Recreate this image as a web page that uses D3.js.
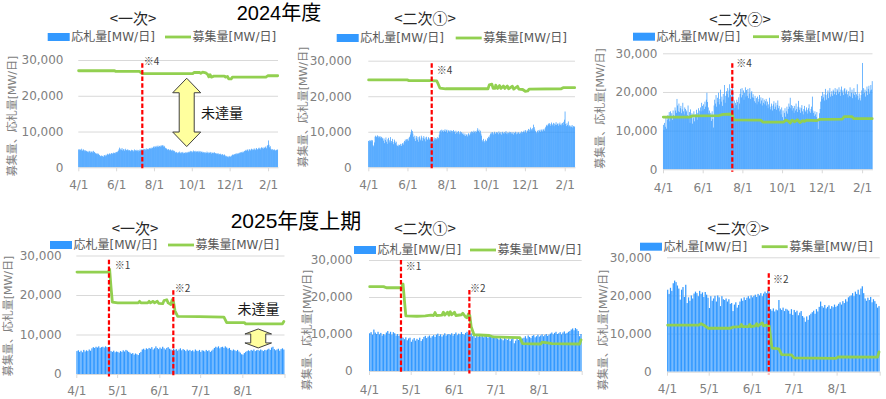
<!DOCTYPE html>
<html>
<head>
<meta charset="utf-8">
<script src="https://cdn.jsdelivr.net/npm/d3@7"></script>
<style>
html, body { margin: 0; padding: 0; background: #fff; }
svg { display: block; font-family: "DejaVu Sans", "Noto Sans CJK JP", sans-serif; }
</style>
</head>
<body>
<svg id="chart" width="886" height="399"></svg>
<script>
// values in 1,000 MW / day

const yTicks = [0, 10, 20, 30];

const ticks24 = ["4/1", "6/1", "8/1", "10/1", "12/1", "2/1"];
const tickDates24 = ["2024-04-01", "2024-06-01", "2024-08-01", "2024-10-01", "2024-12-01", "2025-02-01"];
const ticks25 = ["4/1", "5/1", "6/1", "7/1", "8/1", ""];
const tickDates25 = ["2025-04-01", "2025-05-01", "2025-06-01", "2025-07-01", "2025-08-01", "2025-09-01"];

// 応札量 (daily bars)
const bid24a = [
  5.0,4.8,5.1,4.9,4.7,5.2,4.6,4.9,5.0,4.5,4.8,4.7,
  4.4,4.6,4.3,4.5,4.2,4.6,4.4,4.1,4.5,4.3,4.4,4.0,4.6,4.2,4.3,
  3.9,4.0,3.7,3.9,3.6,3.8,3.5,3.4,
  3.2,3.0,3.3,3.1,3.2,2.9,3.3,3.4,3.1,3.5,3.3,
  3.6,3.8,3.5,3.7,3.9,3.6,3.8,4.0,3.7,3.9,4.1,3.8,4.0,4.2,3.9,4.3,4.1,4.4,4.6,
  5.0,5.5,4.8,5.2,4.9,5.4,4.7,5.0,5.1,4.6,4.9,5.2,4.8,4.7,5.0,4.9,4.6,4.8,
  4.7,4.5,4.9,4.6,4.8,4.4,4.7,5.0,4.5,4.8,4.6,4.9,4.7,4.4,4.8,4.6,5.0,4.7,4.9,
  5.0,4.8,5.2,4.9,5.1,4.7,5.0,5.3,4.9,5.1,5.2,5.0,5.4,5.1,5.3,5.5,5.2,5.4,5.6,
  5.8,5.5,5.9,5.7,6.0,5.6,5.8,6.1,5.7,5.9,6.0,5.8,6.2,5.9,6.1,6.2,5.8,6.0,5.7,
  5.4,5.1,5.3,5.0,4.8,5.1,4.9,4.7,5.0,4.8,4.6,4.9,4.5,4.7,4.4,4.6,
  4.2,4.0,4.3,4.1,3.9,4.2,4.0,4.4,4.1,3.8,4.2,4.0,4.3,3.9,4.1,4.0,4.2,3.9,4.1,4.3,4.0,4.2,
  4.4,4.2,4.6,4.3,4.5,4.1,4.4,4.7,4.3,4.5,4.2,4.6,4.4,4.3,4.5,4.2,4.6,4.4,4.1,4.5,4.3,4.4,
  4.1,4.3,4.0,4.2,3.9,4.2,4.0,4.4,4.1,3.9,4.2,4.0,4.3,4.1,3.8,4.2,4.0,4.1,3.9,4.2,4.0,
  3.9,3.7,4.0,3.8,3.6,3.9,3.7,3.5,3.8,3.6,3.4,3.7,3.5,3.3,3.6,3.4,
  3.1,3.0,3.2,2.9,3.1,2.8,3.0,3.2,2.9,3.1,3.3,
  3.5,3.6,3.4,3.7,3.5,3.8,3.6,3.9,3.7,4.0,3.8,4.1,3.9,4.2,4.0,4.3,4.1,4.4,4.2,4.5,4.6,
  4.7,4.9,4.6,5.0,4.8,4.5,5.1,4.9,4.7,5.0,5.2,4.8,5.1,4.9,5.3,5.0,4.8,5.2,5.4,5.1,4.9,5.3,5.5,5.2,5.0,5.4,5.6,
  5.3,5.5,5.2,5.6,5.4,5.8,5.5,5.3,6.0,6.2,7.5,
  6.3,5.6,5.9,5.2,5.0,4.8,5.1,4.9,4.7,5.0,4.8,4.6,4.9,4.8,5.0
];
const bid24b = [
  7.4,7.6,7.2,7.5,7.7,7.3,7.6,6.2,5.9,7.0,
  8.6,8.9,8.5,8.7,9.0,8.4,8.8,8.6,8.2,8.7,8.5,8.0,8.3,
  7.5,8.1,6.8,7.7,8.4,7.2,6.6,7.9,8.3,7.0,7.6,8.5,6.9,7.4,8.0,7.1,6.5,7.8,7.3,6.8,7.2,
  6.2,6.0,6.4,5.9,6.3,6.1,6.6,6.0,6.5,6.8,6.4,7.0,
  7.4,7.8,7.2,7.9,7.6,8.0,7.5,8.3,8.6,9.2,9.8,
  10.6,10.2,9.5,
  8.6,8.0,8.9,7.4,8.3,8.8,7.8,8.5,7.2,8.7,8.1,7.6,8.9,8.4,7.5,8.2,8.8,7.9,8.4,7.3,8.6,8.0,7.7,8.5,8.2,7.8,
  8.1,7.6,8.3,7.9,8.0,7.5,8.4,7.8,8.2,7.7,8.1,8.5,7.9,8.3,9.2,
  10.1,10.4,9.8,10.6,10.2,10.5,9.9,10.3,10.7,10.0,10.4,10.6,9.7,10.2,10.5,10.1,9.8,10.4,10.3,9.6,
  10.2,10.5,9.9,10.1,9.4,10.3,9.7,10.0,9.5,10.2,9.8,9.3,10.1,9.6,9.9,9.4,9.7,
  9.2,9.0,9.5,8.8,9.3,9.1,8.7,9.4,9.6,9.0,9.3,9.8,10.1,9.5,10.0,9.7,10.3,9.9,10.2,9.6,10.0,
  10.4,11.0,10.2,10.6,9.8,10.3,9.5,8.9,
  7.6,7.2,8.0,7.4,7.0,7.8,7.3,7.5,8.2,7.9,8.6,8.4,9.0,
  9.5,9.8,9.3,9.9,9.6,9.2,10.0,9.7,9.4,9.9,9.6,9.8,9.3,10.1,9.7,9.5,9.9,9.2,9.8,10.0,
  9.6,9.4,9.9,9.7,10.2,9.5,9.8,9.3,9.7,10.0,9.6,9.9,9.4,9.8,9.5,9.9,9.2,9.7,9.6,10.0,
  9.3,9.8,9.5,9.9,9.7,9.4,9.8,9.6,10.1,9.5,9.9,
  10.0,10.3,9.8,10.5,10.1,9.7,10.4,10.2,10.8,10.0,10.6,11.2,10.3,10.7,11.0,10.4,12.0,11.3,10.6,10.2,9.9,
  9.6,10.2,10.5,9.8,10.3,10.6,10.0,10.4,10.7,10.1,10.5,10.8,10.3,11.0,11.4,11.8,
  12.0,11.6,12.3,11.9,12.4,11.7,12.2,12.6,11.8,12.1,12.5,11.6,12.3,12.0,12.7,11.9,12.2,12.4,11.7,12.1,
  12.6,12.0,11.8,12.3,12.5,11.9,12.8,13.4,
  15.7,
  12.2,11.6,12.4,11.9,12.9,11.5,11.8,11.3,11.7,11.4,11.9,11.2,11.6,11.3,11.5
];
const bid24c = [
  11.5,10.2,12.0,11.0,13.5,10.5,12.8,
  14.0,13.2,14.8,12.4,15.0,13.6,14.5,12.8,15.2,14.0,13.5,16.0,15.2,14.6,
  18.2,16.5,15.0,17.0,14.8,15.8,16.4,14.5,15.5,17.2,15.0,14.2,16.0,15.6,14.8,
  15.2,14.0,16.5,13.5,14.8,12.0,15.5,13.8,14.5,11.8,13.2,15.0,12.4,14.2,13.6,15.4,12.8,14.6,15.8,14.0,15.2,
  16.0,15.0,17.2,16.4,15.2,16.8,15.6,17.5,16.2,18.0,19.8,17.4,16.0,
  14.5,15.2,13.8,14.6,12.5,15.0,13.0,10.8,
  16.5,18.0,17.0,19.2,16.2,18.5,17.4,19.8,16.8,18.2,20.6,17.5,18.8,16.4,19.5,18.0,21.8,17.2,19.0,20.2,
  19.5,21.0,18.6,20.4,22.0,19.2,20.8,18.4,21.5,19.8,
  16.5,17.8,15.8,17.2,16.6,18.0,17.4,15.5,18.6,17.0,
  19.5,20.8,18.6,21.0,19.2,20.4,18.0,19.8,21.2,18.8,20.5,19.0,20.8,18.4,19.6,21.0,18.2,19.8,20.2,18.6,19.4,
  18.5,17.6,19.0,17.2,18.4,16.8,18.8,17.5,18.2,19.2,17.0,18.6,17.8,16.5,18.4,17.2,18.0,16.8,17.6,18.2,
  16.5,17.5,15.8,16.8,18.5,16.2,15.5,17.0,16.4,15.2,16.8,17.6,15.6,16.2,17.2,15.4,16.6,17.8,15.8,16.4,15.0,
  15.5,14.2,16.0,13.5,15.2,12.8,14.6,15.8,13.6,15.0,16.2,14.4,15.6,17.0,16.2,18.5,15.8,16.6,15.2,16.4,
  15.8,14.6,16.4,15.2,17.0,15.6,14.8,16.2,17.7,15.4,16.0,14.6,15.8,16.6,15.0,14.2,15.6,16.4,15.2,14.8,
  16.0,15.4,14.4,15.8,16.8,15.0,14.6,15.6,16.2,18.8,15.2,
  14.6,13.8,15.0,14.2,13.5,14.8,12.6,10.4,13.0,14.5,15.6,
  17.5,19.0,18.2,20.0,18.6,19.4,17.8,20.8,19.2,18.0,19.6,20.4,18.4,19.8,21.0,18.8,19.4,20.2,19.0,20.6,
  20.2,19.4,21.0,20.0,19.2,20.8,20.4,19.6,21.2,20.0,19.0,20.6,21.4,19.8,20.4,19.2,20.8,21.0,19.6,20.2,20.6,
  19.4,18.6,20.2,19.0,21.2,18.8,19.8,20.6,18.4,19.6,21.0,19.2,20.0,18.6,19.4,22.0,19.0,18.0,19.6,18.4,
  17.8,19.2,20.4,
  27.5,
  19.5,21.0,19.8,20.6,18.8,20.2,21.4,19.2,20.8,21.6,19.6,20.4,21.8,20.6,22.8
];
const bid25a = [
  5.8,6.0,5.6,5.9,5.5,6.1,5.7,6.0,5.8,6.2,5.9,
  6.5,6.8,6.6,6.9,6.7,7.0,6.6,6.8,6.9,6.7,7.0,6.8,6.6,6.9,
  5.8,5.6,5.9,5.5,5.7,5.6,5.4,5.8,5.6,6.0,5.7,6.1,5.9,5.6,
  5.4,5.1,5.3,4.9,5.2,5.0,4.8,5.3,5.6,
  6.2,6.4,6.1,6.5,6.3,6.6,6.4,6.8,6.2,6.5,7.0,6.6,6.3,6.7,6.4,6.9,6.5,6.2,6.6,6.8,6.4,
  6.2,6.0,6.4,6.1,6.3,5.9,6.2,6.5,6.0,6.3,6.1,5.8,6.2,
  5.9,6.1,5.8,6.0,5.7,6.2,5.9,5.8,6.1,5.6,6.0,5.9,5.7,6.1,5.8,6.0,5.6,5.9,6.2,
  6.6,6.9,6.7,7.0,6.5,6.8,6.9,6.6,7.0,6.7,6.4,6.6,
  6.1,5.9,6.2,6.0,5.8,6.1,5.7,5.4,5.0,4.9,5.3,5.6,5.8,
  6.0,5.8,6.1,5.9,6.2,5.8,6.0,6.1,5.9,6.2,6.0,5.8,6.1,6.0,
  6.2,6.4,6.1,6.7,6.9,6.3,6.0,6.2,6.4,5.9,6.3,6.5,6.2
];
const bid25b = [
  10.2,10.5,9.8,11.2,10.4,10.0,10.6,9.9,10.3,9.6,
  10.0,9.7,10.4,10.8,10.1,10.6,9.8,10.5,10.2,9.6,10.0,9.5,9.8,
  9.2,9.0,8.6,9.1,8.3,8.8,9.0,7.9,8.5,8.9,8.2,8.7,8.4,9.0,8.1,8.6,
  9.2,9.5,8.9,9.3,9.6,9.0,9.4,9.7,9.2,9.8,10.1,9.5,9.9,9.3,9.7,10.2,9.6,9.9,10.0,
  9.8,10.2,9.6,10.0,10.4,9.7,10.1,9.9,10.5,10.0,9.8,10.3,10.6,10.1,9.9,10.2,
  9.4,9.7,9.0,9.5,9.2,9.8,9.3,9.6,9.1,9.5,9.7,9.0,9.4,9.6,9.2,9.5,9.3,9.0,
  8.8,8.5,9.0,8.6,8.3,8.9,8.7,8.4,8.8,8.1,8.6,8.9,7.5,8.2,8.7,8.4,8.9,8.5,8.8,
  9.0,9.4,8.8,9.6,9.2,8.9,9.5,9.7,9.1,9.4,9.8,9.3,9.6,9.9,9.4,9.7,10.0,9.5,9.8,
  10.1,10.4,9.9,10.3,10.6,10.0,10.2,10.5,9.9,10.4,10.7,10.1,10.3,10.6,10.8,
  11.2,11.5,11.0,11.6,11.3,10.8,9.4,10.0
];
const bid25c = [
  21.5,20.4,22.0,21.2,
  23.2,23.9,23.5,22.6,
  21.8,18.9,21.5,22.2,19.6,22.8,18.0,
  19.5,18.6,20.0,19.2,20.5,
  21.0,20.6,19.8,21.2,20.4,20.8,19.6,20.9,20.2,
  19.4,16.7,19.8,18.6,19.2,
  19.9,18.4,20.0,19.5,17.2,19.8,19.0,
  18.8,19.2,18.4,19.0,17.8,
  18.0,15.9,17.6,18.2,16.8,17.5,18.4,
  19.2,18.6,19.5,18.8,19.4,
  19.8,19.2,20.0,19.5,19.9,
  20.2,19.6,20.4,20.0,20.6,19.8,20.5,
  21.0,20.6,21.3,20.8,
  16.4,16.0,16.6,15.8,16.3,16.1,
  18.8,16.6,16.2,16.8,15.9,16.5,16.3,
  16.0,15.2,16.4,14.9,16.2,15.6,16.0,14.8,15.5,15.9,14.6,
  14.2,13.1,14.5,13.6,14.8,15.2,
  15.6,16.0,15.2,16.4,15.8,17.0,18.4,
  17.2,16.8,17.5,16.6,17.0,17.4,16.5,17.2,16.9,17.6,17.0,17.3,
  17.8,18.2,17.6,18.5,18.0,19.0,18.4,19.5,19.8,
  20.0,20.6,19.8,21.0,20.4,21.5,20.2,21.8,22.4,20.6,
  19.2,18.6,19.4,18.8,19.6,18.2,19.0,18.5,17.8,
  16.8,17.2
];

// 募集量 (line vertices: [day from 4/1, value])
const req24a = [[0,27.0],[58,27.0],[60,26.8],[98,26.8],[101,26.4],[104,26.2],[184,26.2],[186,26.5],[195,26.5],[197,26.3],
  [200,26.6],[205,26.4],[208,26.0],[210,25.3],[212,25.9],[214,25.2],[218,25.5],[235,25.5],[237,25.2],[240,25.4],
  [242,24.7],[246,24.7],[248,25.2],[302,25.2],[305,25.6],[321,25.6]];
const req24b = [[0,24.6],[60,24.6],[63,24.4],[96,24.4],[106,24.3],[108,23.6],[111,22.3],[120,22.1],[186,22.1],[188,23.2],
  [192,23.4],[194,22.2],[197,22.2],[198,23.1],[201,22.2],[204,23.0],[206,22.2],[210,22.9],[212,22.2],[216,22.9],
  [218,22.1],[224,22.8],[226,22.0],[232,22.8],[234,22.0],[240,21.9],[244,21.4],[248,21.5],[250,22.0],[300,22.1],
  [303,22.4],[321,22.4]];
const req24c = [[0,13.5],[40,13.5],[45,13.8],[85,13.9],[92,14.2],[106,14.3],[108,12.8],[150,12.7],[153,12.2],[185,12.2],
  [188,12.7],[192,12.5],[195,12.0],[198,12.7],[202,12.3],[206,12.8],[210,12.1],[214,12.6],[217,12.4],[220,12.7],
  [236,12.6],[240,12.9],[275,13.0],[278,13.6],[290,13.6],[293,13.1],[321,13.1]];
const req25a = [[0,25.8],[23,25.8],[24,26.5],[25,22.0],[26,18.2],[30,18.0],[45,18.0],[46,18.4],[47,18.0],[52,18.0],
  [53,18.4],[54,18.0],[56,18.4],[57,18.0],[59,18.4],[60,17.9],[63,17.8],[64,18.6],[66,18.8],[67,18.0],[69,17.6],
  [70,18.8],[71,18.2],[72,16.0],[74,14.6],[90,14.5],[108,14.4],[110,13.0],[123,13.0],[124,12.7],[151,12.7],[152,13.3]];
const req25b = [[0,22.8],[10,22.8],[12,22.5],[23,22.5],[24,23.5],[25,19.0],[26,14.9],[34,14.8],[40,14.9],[44,15.1],
  [46,15.0],[47,15.8],[48,15.0],[52,15.1],[53,15.9],[54,15.1],[56,15.9],[57,15.1],[58,16.0],[59,15.2],[61,15.9],
  [62,15.0],[66,15.2],[67,15.6],[69,14.6],[70,14.4],[71,15.4],[72,15.0],[73,12.0],[75,9.8],[86,9.6],[89,9.2],
  [108,9.0],[110,7.4],[123,7.3],[124,7.8],[128,7.6],[131,7.4],[151,7.3],[152,8.4]];
const req25c = [[0,12.2],[22,12.2],[24,12.6],[26,12.2],[29,11.4],[45,11.4],[47,11.7],[52,11.8],[53,12.4],[54,11.8],
  [58,11.8],[59,12.4],[60,11.8],[63,12.0],[64,12.6],[65,12.0],[68,12.8],[69,12.0],[71,12.2],[73,12.0],[75,6.2],
  [80,6.0],[82,4.5],[89,4.4],[91,3.6],[121,3.5],[123,3.9],[151,3.8],[152,5.2]];

const BLUE = "#3399ff", GREEN = "#92d050", RED = "#ff0000";
const fmt = d3.format(",");
const svg = d3.select("#chart");

const panels = [
  { title: "<一次>", start: "2024-04-01", days: 322, ticks: ticks24, tickDates: tickDates24, bids: bid24a, req: req24a,
    box: { x0: 78.3, x1: 278, y0: 167.3, y30: 60 }, titleXY: [133, 18.3], legY: 37, legRect: 47.7, legLine: 165,
    yLab: [12, 116], xLabY: 185, tickR: 63.5, barFrac: 1.08,
    marks: [{ day: 103.2, top: 29.1, label: "※4", dx: 1.5, dy: -1.5 }],
    arrow: { day: 174.8, top: 24.9, bottom: 5.8, headW: 14, shaftW: 7.5, headL: 14.5, text: [201, 113.5] } },
  { title: "<二次①>", start: "2024-04-01", days: 322, ticks: ticks24, tickDates: tickDates24, bids: bid24b, req: req24b,
    box: { x0: 368.3, x1: 575, y0: 167.3, y30: 60.7 }, titleXY: [425, 18.3], legY: 38, legRect: 336.7, legLine: 455.7,
    yLab: [303, 107], xLabY: 185, tickR: 351.7, barFrac: 1.08,
    marks: [{ day: 98.8, top: 29.3, label: "※4", dx: 5, dy: 7.5 }] },
  { title: "<二次②>", start: "2024-04-01", days: 322, ticks: ticks24, tickDates: tickDates24, bids: bid24c, req: req24c,
    box: { x0: 663, x1: 872.5, y0: 169.3, y30: 53.3 }, titleXY: [740, 20], legY: 36.7, legRect: 633, legLine: 753,
    yLab: [600, 108.5], xLabY: 188, tickR: 657.5, barFrac: 1.08,
    marks: [{ day: 106.5, top: 27.4, label: "※4", dx: 4, dy: 0 }] },
  { title: "<一次>", start: "2025-04-01", days: 153, ticks: ticks25, tickDates: tickDates25, bids: bid25a, req: req25a,
    box: { x0: 76.3, x1: 284.5, y0: 374, y30: 255.5 }, titleXY: [135, 228.3], legY: 245, legRect: 50, legLine: 168,
    yLab: [8.5, 316], xLabY: 390.5, tickR: 61.7, barFrac: 0.88,
    marks: [{ day: 24.0, top: 28.9, label: "※1", dx: 5.7, dy: 5.5 }, { day: 71.3, top: 21.2, label: "※2", dx: 1.4, dy: -1.7 }],
    arrow: { day: 133.7, top: 11.4, bottom: 6.6, headW: 13.3, shaftW: 7.5, headL: 5, text: [237.5, 309] } },
  { title: "<二次①>", start: "2025-04-01", days: 153, ticks: ticks25, tickDates: tickDates25, bids: bid25b, req: req25b,
    box: { x0: 369, x1: 581.7, y0: 371, y30: 260 }, titleXY: [425, 228.3], legY: 250, legRect: 354, legLine: 470,
    yLab: [307, 330], xLabY: 389.3, tickR: 352.7, barFrac: 0.88,
    marks: [{ day: 23.0, top: 30, label: "※1", dx: 4.7, dy: 6.7 }, { day: 72.2, top: 21.9, label: "※2", dx: 0.7, dy: -1.7 }] },
  { title: "<二次②>", start: "2025-04-01", days: 153, ticks: ticks25, tickDates: tickDates25, bids: bid25c, req: req25c,
    box: { x0: 667, x1: 879.7, y0: 371.7, y30: 257.3 }, titleXY: [738.3, 228.3], legY: 246.7, legRect: 640, legLine: 761.7,
    yLab: [603, 330], xLabY: 389.3, tickR: 651.7, barFrac: 0.88,
    marks: [{ day: 73.2, top: 25.8, label: "※2", dx: 4.3, dy: 6 }] }
];

const parseDay = d3.utcParse("%Y-%m-%d");

function drawPanel(p) {
  const g = svg.append("g");
  const b = p.box;
  const t0 = parseDay(p.start);
  const x = d3.scaleUtc().domain([t0, d3.utcDay.offset(t0, p.days)]).range([b.x0, b.x1]);
  const y = d3.scaleLinear().domain([0, 30]).range([b.y0, b.y30]);
  const slot = (b.x1 - b.x0) / p.days;
  const dayX = d => x(new Date(t0.getTime() + d * 864e5));

  // gridlines
  const grid = g.append("g").attr("transform", `translate(${b.x0},0)`)
    .call(d3.axisLeft(y).tickValues(yTicks.slice(1)).tickSize(-(b.x1 - b.x0)).tickFormat(""));
  grid.select(".domain").remove();
  grid.selectAll("line").attr("stroke", "#d9d9d9");

  // bars
  g.append("g").selectAll("rect").data(p.bids).join("rect")
    .attr("x", (d, i) => dayX(i) + slot * (1 - p.barFrac) / 2)
    .attr("width", slot * p.barFrac)
    .attr("y", d => y(d))
    .attr("height", d => y(0) - y(d))
    .attr("fill", BLUE);

  // x axis
  const xa = g.append("g").attr("transform", `translate(0,${b.y0})`)
    .call(d3.axisBottom(x).tickValues(p.tickDates.map(parseDay)).tickFormat((d, i) => p.ticks[i]).tickSize(4).tickSizeOuter(0));
  xa.select(".domain").attr("stroke", "#d9d9d9");
  xa.selectAll("line").attr("stroke", "#d9d9d9");
  xa.selectAll("text").attr("y", p.xLabY - b.y0).attr("dy", "0.35em")
    .attr("fill", "#808080").style("font-size", "12px").style("font-family", "DejaVu Sans");

  // y axis labels
  const ya = g.append("g").attr("transform", `translate(${b.x0},0)`)
    .call(d3.axisLeft(y).tickValues(yTicks).tickSize(0).tickPadding(b.x0 - p.tickR).tickFormat(d => fmt(d * 1000)));
  ya.select(".domain").remove();
  ya.selectAll("text").attr("fill", "#808080").style("font-size", "12px").style("font-family", "DejaVu Sans");

  // 募集量 line
  const line = d3.line().x(d => dayX(d[0]) + slot / 2).y(d => y(d[1]));
  g.append("path").datum(p.req).attr("d", line)
    .attr("fill", "none").attr("stroke", GREEN).attr("stroke-width", 2.8)
    .attr("stroke-linejoin", "round").attr("stroke-linecap", "round");

  // red dashed markers
  p.marks.forEach(m => {
    const mx = dayX(m.day);
    g.append("line").attr("x1", mx).attr("x2", mx).attr("y1", y(m.top)).attr("y2", b.y0 + 2.5)
      .attr("stroke", RED).attr("stroke-width", 2.2).attr("stroke-dasharray", "4.5,2.2");
    g.append("text").attr("x", mx + m.dx).attr("y", y(m.top) + m.dy).attr("dy", "0.35em")
      .attr("fill", "#404040").style("font-size", "10px").style("font-family", "Noto Sans CJK JP")
      .text(m.label);
  });

  // yellow double arrow
  if (p.arrow) {
    const a = p.arrow, cx = dayX(a.day), ty = y(a.top), by = y(a.bottom);
    const pts = [[cx, ty], [cx + a.headW, ty + a.headL], [cx + a.shaftW, ty + a.headL], [cx + a.shaftW, by - a.headL],
      [cx + a.headW, by - a.headL], [cx, by], [cx - a.headW, by - a.headL], [cx - a.shaftW, by - a.headL],
      [cx - a.shaftW, ty + a.headL], [cx - a.headW, ty + a.headL]];
    g.append("path").attr("d", d3.line()(pts) + "Z")
      .attr("fill", "#ffff9e").attr("stroke", "#404040").attr("stroke-width", 1).attr("stroke-linejoin", "round");
    g.append("text").attr("x", a.text[0]).attr("y", a.text[1]).attr("dy", "0.35em")
      .attr("fill", "#1a1a1a").style("font-size", "14px").style("font-family", "Noto Sans CJK JP")
      .text("未達量");
  }

  // title
  g.append("text").attr("x", p.titleXY[0]).attr("y", p.titleXY[1]).attr("dy", "0.35em")
    .attr("text-anchor", "middle").attr("fill", "#262626")
    .style("font-size", "15px").style("font-family", "Noto Sans CJK JP").text(p.title);

  // legend
  g.append("rect").attr("x", p.legRect).attr("y", p.legY - 4).attr("width", 22).attr("height", 8).attr("fill", BLUE);
  g.append("text").attr("x", p.legRect + 23.5).attr("y", p.legY).attr("dy", "0.35em")
    .attr("fill", "#595959").style("font-size", "12px").text("応札量[MW/日]");
  g.append("line").attr("x1", p.legLine).attr("x2", p.legLine + 26).attr("y1", p.legY).attr("y2", p.legY)
    .attr("stroke", GREEN).attr("stroke-width", 2.8);
  g.append("text").attr("x", p.legLine + 27.5).attr("y", p.legY).attr("dy", "0.35em")
    .attr("fill", "#595959").style("font-size", "12px").text("募集量[MW/日]");

  // y axis title
  g.append("text").attr("transform", `translate(${p.yLab[0]},${p.yLab[1]}) rotate(-90)`)
    .attr("text-anchor", "middle").attr("dy", "0.35em").attr("fill", "#808080")
    .style("font-size", "11px").text("募集量、応札量[MW/日]");
}

panels.forEach(drawPanel);

// section headings
svg.append("text").attr("x", 279).attr("y", 19.5).attr("text-anchor", "middle")
  .attr("fill", "#000").style("font-size", "20px").style("font-family", "'Liberation Sans', 'Noto Sans CJK JP'").text("2024年度");
svg.append("text").attr("x", 296).attr("y", 227.5).attr("text-anchor", "middle")
  .attr("fill", "#000").style("font-size", "21px").style("font-family", "'Liberation Sans', 'Noto Sans CJK JP'").text("2025年度上期");
</script>
</body>
</html>
